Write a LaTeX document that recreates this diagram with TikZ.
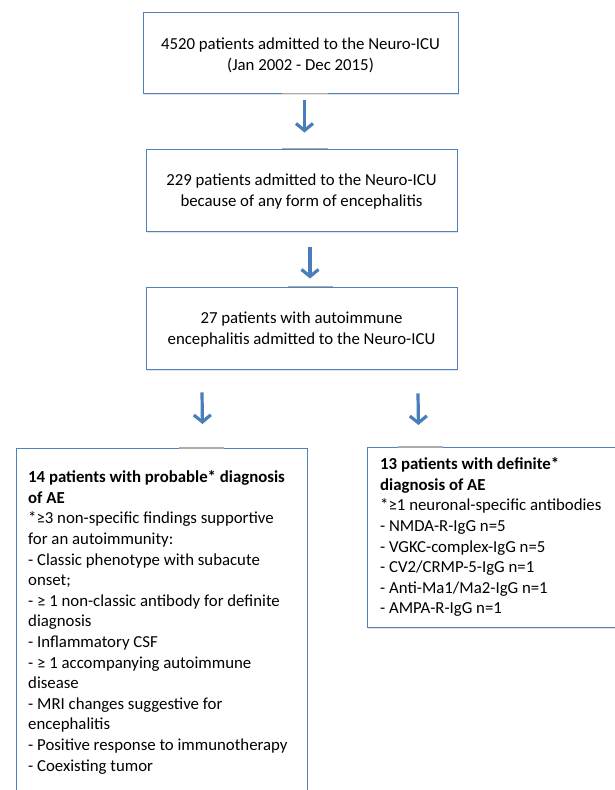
\documentclass[tikz,border=0pt]{standalone}
\usepackage{fontspec}
\setmainfont{Carlito}
\usetikzlibrary{arrows.meta,shadows,calc}
\definecolor{boxblue}{HTML}{4F81BD}
\definecolor{arrblue}{HTML}{4A7EBB}
\begin{document}
\begin{tikzpicture}[x=1pt,y=-1pt,
  box/.style={draw=boxblue, line width=0.9pt, fill=white, inner sep=0pt,
    drop shadow={shadow xshift=0.8pt, shadow yshift=-1.6pt, opacity=0.22}},
  txt/.style={font=\fontsize{16.8}{21}\selectfont, align=center, inner sep=0pt},
  ltxt/.style={font=\fontsize{16.8}{20.6}\selectfont, align=left, inner sep=0pt, anchor=north west},
  arr/.style={draw=arrblue, line width=3.2pt, -{Straight Barb[length=7pt,width=17pt]}},
  stub/.style={draw=gray!65, line width=1.1pt}
]
\useasboundingbox (0,0) rectangle (614,790);

\node[box, minimum width=315pt, minimum height=81pt] (b1) at (300.5,52.5) {};
\node[txt] (t1) at (300.5,55.5) {4520 patients admitted to the Neuro-ICU\\(Jan 2002 - Dec 2015)};

\node[box, minimum width=311pt, minimum height=82pt] (b2) at (301.5,190) {};
\node[txt] (t2) at (301.5,192) {229 patients admitted to the Neuro-ICU\\because of any form of encephalitis};

\node[box, minimum width=311pt, minimum height=82pt] (b3) at (301.5,328) {};
\node[txt] (t3) at (301.5,330) {27 patients with autoimmune\\encephalitis admitted to the Neuro-ICU};

\node[box, minimum width=291pt, minimum height=360pt, anchor=north west] (b4) at (16,448) {};
\node[ltxt] (t4) at (28,468.1) {\strut\textbf{14 patients with probable* diagnosis}\\
\textbf{of AE}\\
*≥3 non-specific findings supportive\\
for an autoimmunity:\\
- Classic phenotype with subacute\\
onset;\\
- ≥ 1 non-classic antibody for definite\\
diagnosis\\
- Inflammatory CSF\\
- ≥ 1 accompanying autoimmune\\
disease\\
- MRI changes suggestive for\\
encephalitis\\
- Positive response to immunotherapy\\
- Coexisting tumor};

\node[box, minimum width=260pt, minimum height=180pt, anchor=north west] (b5) at (367,447) {};
\node[ltxt] (t5) at (380,455.1) {\strut\textbf{13 patients with definite*}\\
\textbf{diagnosis of AE}\\
*≥1 neuronal-specific antibodies\\
- NMDA-R-IgG n=5\\
- VGKC-complex-IgG n=5\\
- CV2/CRMP-5-IgG n=1\\
- Anti-Ma1/Ma2-IgG n=1\\
- AMPA-R-IgG n=1};

% stubs
\draw[stub] ($(b1.south)+(-18.5,0)$) -- ($(b1.south)+(27.5,0)$);
\draw[stub] ($(b2.north)+(-19.5,0)$) -- ($(b2.north)+(26.5,0)$);
\draw[stub] ($(b3.north)+(-13.5,0)$) -- ($(b3.north)+(31.5,0)$);
\draw[stub] ($(b4.north)+(17.5,0)$) -- ($(b4.north)+(62.5,0)$);
\draw[stub] ($(b5.north)+(-99,0)$) -- ($(b5.north)+(-54,0)$);

% arrows
\draw[arr] ($(b1.south)+(4,7)$) -- ($(b2.north)+(3,-16)$);
\draw[arr] ($(b2.south)+(8.5,16)$) -- ($(b3.north)+(8.5,-8)$);
\draw[arr] ($(b3.south)+(-99.5,23)$) -- ($(b4.north)+(40.5,-24)$);
\draw[arr] ($(b3.south)+(116.5,24)$) -- ($(b5.north)+(-79,-22)$);
\end{tikzpicture}
\end{document}
